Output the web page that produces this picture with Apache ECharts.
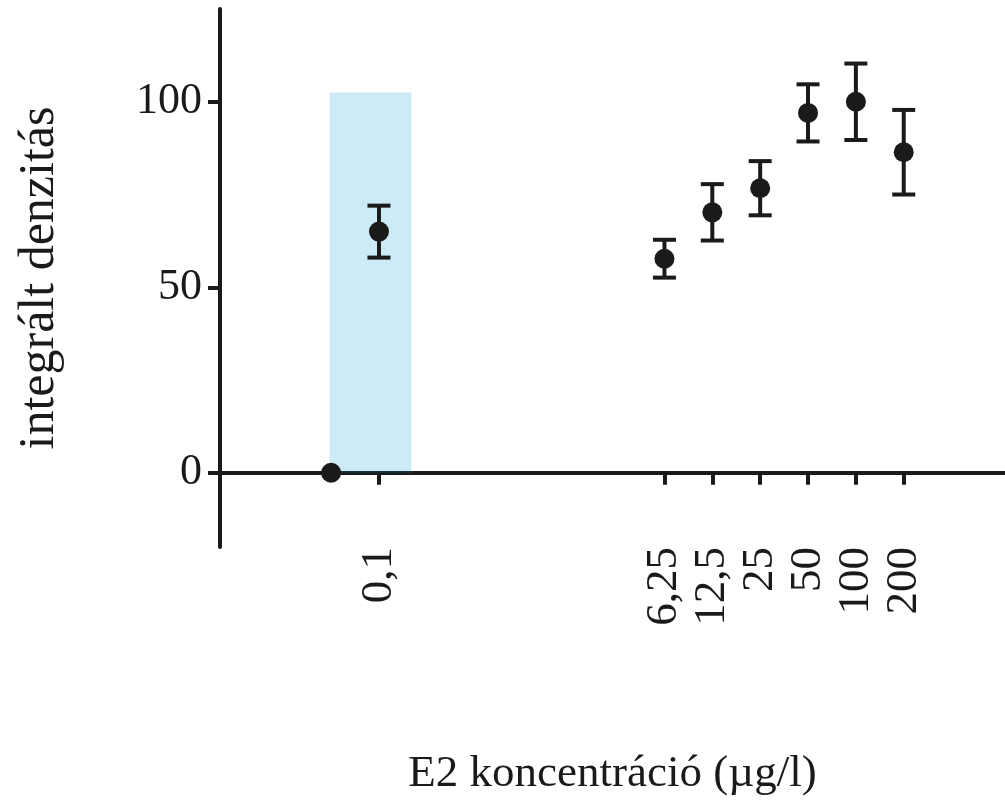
<!DOCTYPE html>
<html lang="hu">
<head>
    <meta charset="utf-8">
    <title>E2 koncentráció</title>
    <script type="text/javascript" src="https://cdn.jsdelivr.net/npm/echarts@6/dist/echarts.min.js"></script>
    <style>
        html, body { margin: 0; padding: 0; background: #fff; }
        #chartMain { width: 1005px; height: 808px; }
    </style>
</head>
<body>
    <div id="chartMain"></div>
    <script type="text/javascript">
        // concentrations (µg/l) and their tick labels
        var conc = [0.1, 6.25, 12.5, 25, 50, 100, 200];
        var concLabels = ['0,1', '6,25', '12,5', '25', '50', '100', '200'];
        // mean and error of the integrated density
        var means = [65, 57.7, 70.2, 76.7, 97, 100, 86.4];
        var errs = [7, 5.1, 7.6, 7.3, 7.7, 10.3, 11.4];
        // control point, drawn left of the first dose
        var controlConc = 0.05;
        var controlMean = 0;
        // shaded band around 0,1
        var shadeConc = [0.049, 0.16];
        var shadeTop = 102.5;
        var yTicks = [0, 50, 100];

        var font = "'Liberation Serif', 'Times New Roman', serif";
        var ink = '#1a1a1a';

        // x axis is log2 of the concentration
        function lg(v) { return Math.log(v) / Math.LN2; }
        var tickPos = conc.map(lg);

        var points = conc.map(function (c, i) { return [lg(c), means[i]]; });
        var bars = conc.map(function (c, i) { return [lg(c), means[i] - errs[i], means[i] + errs[i]]; });

        var chart = echarts.init(document.getElementById('chartMain'));
        chart.setOption({
            animation: false,
            grid: { left: 220, right: 0, top: 9, bottom: 261, containLabel: false, outerBoundsMode: 'none' },
            xAxis: {
                type: 'value',
                min: lg(0.01),
                max: 9.76,
                splitLine: { show: false },
                axisLine: { onZero: true, lineStyle: { color: ink, width: 4 } },
                axisTick: {
                    customValues: tickPos,
                    length: 12,
                    lineStyle: { color: ink, width: 4 }
                },
                axisLabel: {
                    customValues: tickPos,
                    rotate: 90,
                    margin: 0,
                    hideOverlap: false,
                    fontFamily: font,
                    fontSize: 45,
                    color: ink,
                    formatter: function (v) {
                        var best = 0;
                        for (var i = 1; i < tickPos.length; i++) {
                            if (Math.abs(tickPos[i] - v) < Math.abs(tickPos[best] - v)) best = i;
                        }
                        return concLabels[best];
                    }
                },
                name: 'E2 koncentráció (µg/l)',
                nameLocation: 'middle',
                nameGap: 205,
                nameTextStyle: { fontFamily: font, fontSize: 45, color: ink }
            },
            yAxis: {
                type: 'value',
                min: -20,
                max: 125,
                splitLine: { show: false },
                axisLine: { onZero: false, lineStyle: { color: ink, width: 4 } },
                axisTick: {
                    customValues: yTicks,
                    length: 12,
                    lineStyle: { color: ink, width: 4 }
                },
                axisLabel: {
                    customValues: yTicks,
                    margin: 18,
                    fontFamily: font,
                    fontSize: 44,
                    color: ink
                },
                name: 'integrált denzitás',
                nameLocation: 'middle',
                nameRotate: 90,
                nameGap: 155,
                nameTextStyle: { fontFamily: font, fontSize: 50, color: ink }
            },
            series: [{
                type: 'custom',
                z: 3,
                data: bars,
                renderItem: function (params, api) {
                    var lo = api.coord([api.value(0), api.value(1)]);
                    var hi = api.coord([api.value(0), api.value(2)]);
                    var half = 11.5;
                    var st = { stroke: ink, lineWidth: 4 };
                    return {
                        type: 'group',
                        children: [
                            { type: 'line', shape: { x1: lo[0], y1: lo[1], x2: hi[0], y2: hi[1] }, style: st },
                            { type: 'line', shape: { x1: lo[0] - half, y1: lo[1], x2: lo[0] + half, y2: lo[1] }, style: st },
                            { type: 'line', shape: { x1: hi[0] - half, y1: hi[1], x2: hi[0] + half, y2: hi[1] }, style: st }
                        ]
                    };
                }
            }, {
                type: 'scatter',
                z: 4,
                symbolSize: 20,
                itemStyle: { color: ink, opacity: 1 },
                data: points.concat([[lg(controlConc), controlMean]])
            }, {
                type: 'scatter',
                z: 10,
                data: [],
                markArea: {
                    silent: true,
                    itemStyle: { color: 'rgba(0,156,211,0.2)' },
                    data: [[{ xAxis: lg(shadeConc[0]), yAxis: 0 }, { xAxis: lg(shadeConc[1]), yAxis: shadeTop }]]
                }
            }]
        });
    </script>
</body>
</html>
